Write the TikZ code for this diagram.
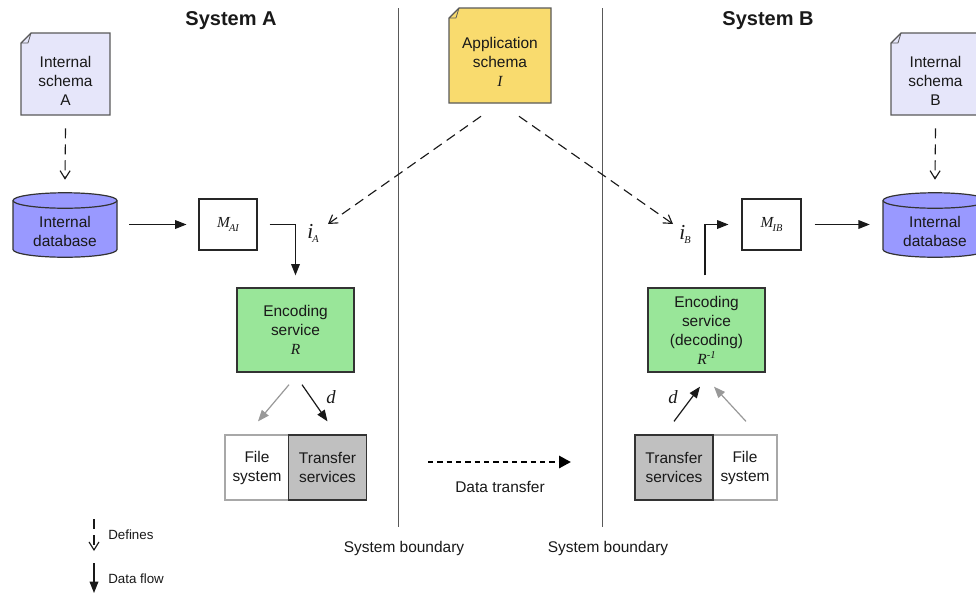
\documentclass[tikz,border=0pt]{standalone}
\usepackage{fontspec}
\setmainfont{Liberation Sans}
\newfontfamily\tms{Liberation Serif}
\usetikzlibrary{arrows.meta,calc}

\definecolor{lav}{HTML}{E6E6FA}
\definecolor{dbblue}{HTML}{9999FF}
\definecolor{appyel}{HTML}{F9DB6E}
\definecolor{encgreen}{HTML}{99E699}
\definecolor{tsgray}{HTML}{C0C0C0}
\definecolor{lightedge}{HTML}{A8A8A8}
\definecolor{noteedge}{HTML}{5A5A5A}

\newcommand\itx[1]{{\tms\itshape #1}}
\newcommand\mainfs{\fontsize{11.6}{14.25}\selectfont}
\newcommand\legfs{\fontsize{10}{12}\selectfont}
\newcommand\titlefs{\fontsize{15}{18}\selectfont\bfseries}
\newcommand\subvar[3]{{\fontsize{#1}{#1}\selectfont\itx{#2}}\kern-0.6pt\raisebox{-3pt}{\fontsize{7.8}{8}\selectfont\itx{#3}}}

% note outline: x0 y0 x1 y1 fill
\newcommand\notebox[5]{%
  \filldraw[fill=#5, draw=noteedge, line width=0.8pt] (#1,#2+10) -- (#1+10,#2) -- (#3,#2) -- (#3,#4) -- (#1,#4) -- cycle;
  \draw[noteedge, line width=0.6pt, line join=round] (#1,#2+10) -- (#1+10,#2) -- (#1+7,#2+10) -- cycle;
}
% cylinder: x0 x1 ytop ybottom (ellipse centres)
\newcommand\dbcyl[4]{%
  \filldraw[fill=dbblue, draw=black!80, line width=0.9pt] (#1,#3) -- (#1,#4)
    arc[start angle=180,end angle=360,x radius=39pt,y radius=5.8pt] -- (#2,#3)
    arc[start angle=0,end angle=180,x radius=39pt,y radius=5.8pt] -- cycle;
  \draw[black!80, line width=0.9pt] (#1,#3) arc[start angle=180,end angle=360,x radius=39pt,y radius=5.8pt];
}

\begin{document}
\begin{tikzpicture}[x=0.75pt,y=-0.75pt,
  every node/.style={font=\mainfs, text=black!90, inner sep=0pt},
  blank/.style={align=center},
  mbox/.style={draw=black!85, line width=0.8pt, fill=white, minimum width=43.5pt, minimum height=38.25pt},
  encbox/.style={draw=black!80, line width=1pt, fill=encgreen, align=center, minimum width=87.75pt, minimum height=63pt},
  fsbox/.style={draw=lightedge, line width=0.9pt, fill=white, align=center, minimum width=48pt, minimum height=48.75pt},
  tsbox/.style={draw=black!80, line width=0.9pt, fill=tsgray, align=center, minimum width=58pt, minimum height=48.75pt},
  flow/.style={draw=black!90, line width=0.9pt, -{Triangle[length=8.5pt,width=6.5pt]}},
  grayflow/.style={draw=black!40, line width=0.9pt, -{Triangle[length=8.5pt,width=6.5pt]}},
  defs/.style={draw=black!90, line width=0.85pt, dash pattern=on 7.5pt off 4.5pt, -{Straight Barb[length=6pt,width=7.5pt]}},
  xfer/.style={draw=black, line width=2.2pt, dash pattern=on 4pt off 3pt, -{Triangle[length=9pt,width=9pt]}},
  bnd/.style={draw=black!65, line width=0.6pt}]

\fill[white] (0,0) rectangle (976,594);
\useasboundingbox (0,0) rectangle (976,594);

% titles
\node[font=\titlefs] (tA) at (231,21) {System A};
\node[font=\titlefs] (tB) at (768,21) {System B};

% boundaries
\draw[bnd] (398,8) -- (398,527);
\draw[bnd] (602,8) -- (602,527);
\node (bl1) at (404,548) {System boundary};
\node (bl2) at (608,548) {System boundary};

% notes
\notebox{21}{33}{110}{115}{lav}
\node[blank, minimum width=66.75pt, minimum height=51pt] (sA) at (65.5,81) {Internal\\schema\\A};
\notebox{891}{33}{980}{115}{lav}
\node[blank, minimum width=66.75pt, minimum height=51pt] (sB) at (935.5,81) {Internal\\schema\\B};
\notebox{449}{8}{551}{103}{appyel}
\node[blank, minimum width=76.5pt, minimum height=61.5pt] (app) at (500,62) {Application\\schema\\\itx{I}};

% databases
\dbcyl{13}{117}{200.5}{249.5}
\node[blank, minimum width=78pt, minimum height=57pt] (dbA) at (65,231) {Internal\\database};
\dbcyl{883}{987}{200.5}{249.5}
\node[blank, minimum width=78pt, minimum height=57pt] (dbB) at (935,231) {Internal\\database};

% mapping boxes
\node[mbox] (MAI) at (228,224.5) {\subvar{11.5}{M}{AI}};
\node[mbox, minimum width=44.25pt] (MIB) at (771.5,224.5) {\subvar{11.5}{M}{IB}};

% encoding services
\node[encbox] (encA) at (295.5,330) {Encoding\\service\\\itx{R}};
\node[encbox] (encB) at (706.5,330) {Encoding\\service\\(decoding)\\\itx{R}\raisebox{4pt}{\fontsize{8}{8}\selectfont\itx{-1}}};

% file / transfer
\node[fsbox] (fsA) at (257,467.5) {File\\system};
\node[tsbox] (tsA) at (327.5,467.5) {Transfer\\services};
\node[fsbox] (fsB) at (745,467.5) {File\\system};
\node[tsbox, minimum width=58.5pt] (tsB) at (674,467.5) {Transfer\\services};

% labels
\node (iA) at (313,233) {\subvar{16}{i}{A}};
\node (iB) at (685,234) {\subvar{16}{i}{B}};
\node (dA) at (331,397) {\itx{\fontsize{14}{14}\selectfont d}};
\node (dB) at (673,397) {\itx{\fontsize{14}{14}\selectfont d}};
\coordinate (iAend) at (328,224);
\coordinate (iBend) at (673,224);

% defines arrows
\draw[defs] ($(sA.south)+(0,13)$) -- ($(dbA.north)+(0,-13)$);
\draw[defs] ($(sB.south)+(0,13)$) -- ($(dbB.north)+(0,-13)$);
\draw[defs] ($(app.south)+(-19,13)$) -- (iAend);
\draw[defs] ($(app.south)+(19,13)$) -- (iBend);

% data flow, system A
\draw[flow, shorten <=9pt, shorten >=9pt] (dbA.east |- MAI.west) -- (MAI.west);
\draw[flow] ($(MAI.east)+(12,0)$) -| ($(encA.north)+(0,-12)$);
\draw[grayflow] ($(encA.south)+(-6.5,12)$) -- ($(fsA.north)+(1,-13)$);
\draw[flow] ($(encA.south)+(6.5,12)$) -- ($(tsA.north)+(0,-13)$);

% data flow, system B
\draw[flow] ($(tsB.north)+(0,-13)$) -- ($(encB.south)+(-6.5,14)$);
\draw[grayflow] ($(fsB.north)+(1,-13)$) -- ($(encB.south)+(7.5,14)$);
\draw[flow] ($(encB.north)+(-1.5,-12)$) |- ($(MIB.west)+(-13,0)$);
\draw[flow, shorten <=9.75pt, shorten >=9.75pt] (MIB.east) -- (MIB.east -| dbB.west);

% data transfer
\coordinate (dt1) at (428,462);
\coordinate (dt2) at (571,462);
\draw[xfer] (dt1) -- (dt2);
\node (dtl) at (500,487) {Data transfer};

% legend
\coordinate (lg1) at (94,519);
\coordinate (lg2) at (94,551);
\draw[defs] (lg1) -- (lg2);
\node[anchor=west, font=\legfs] (lgd) at (108,535) {Defines};
\coordinate (lg3) at (94,563);
\coordinate (lg4) at (94,593);
\draw[flow] (lg3) -- (lg4);
\node[anchor=west, font=\legfs] (lgf) at (108,579) {Data flow};
\end{tikzpicture}
\end{document}
